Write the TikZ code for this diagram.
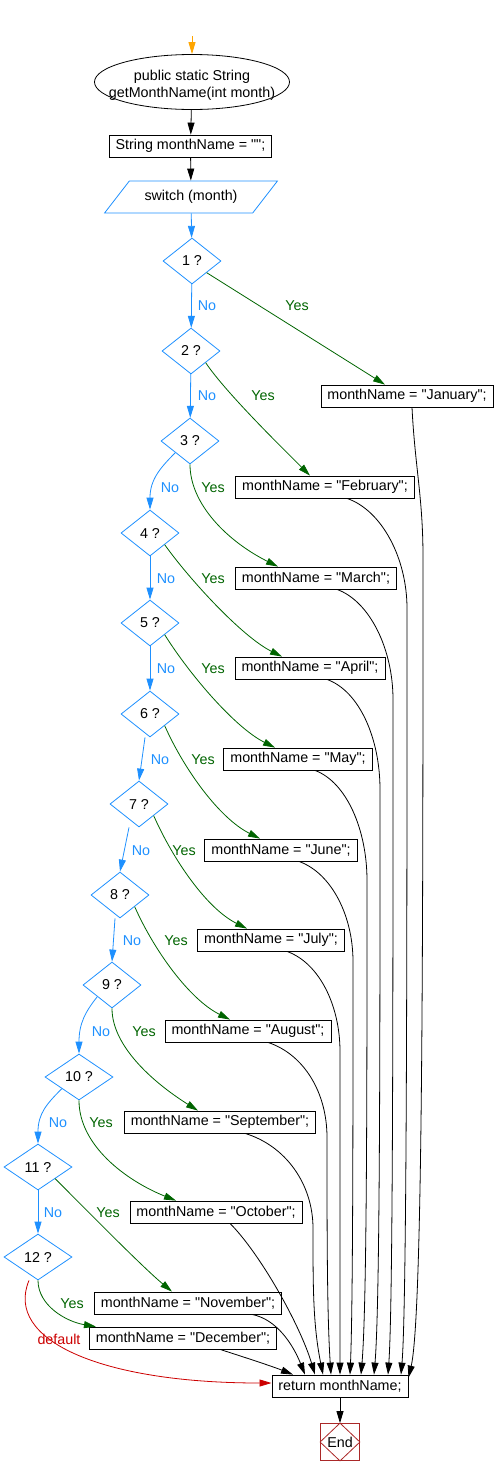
\documentclass[tikz,border=0pt]{standalone}
\usepackage{fontspec}
\setmainfont{Liberation Sans}[Ligatures=TeXOff]
\usetikzlibrary{positioning,shapes.geometric,arrows.meta}

\definecolor{noblue}{RGB}{30,144,255}
\definecolor{yesgreen}{RGB}{0,100,0}
\definecolor{defred}{RGB}{204,0,0}
\definecolor{startorange}{RGB}{255,165,0}
\definecolor{endred}{RGB}{170,40,40}

\begin{document}
\begin{tikzpicture}[x=1pt, y=-1pt,
  font=\fontsize{14.3}{17}\selectfont,
  box/.style = {draw, line width=0.8pt, inner xsep=6.5pt, inner ysep=0pt,
    minimum height=22pt},
  cond/.style = {draw=noblue, diamond, aspect=1.3, inner sep=0pt,
    minimum width=58pt, minimum height=46pt, line width=0.8pt},
  wide/.style = {minimum width=68pt},
  arr/.style = {line width=0.8pt, -{Triangle[length=12pt,width=7pt]}},
  no/.style = {arr, noblue},
  yes/.style = {arr, yesgreen},
  nolbl/.style = {text=noblue},
  yeslbl/.style = {text=yesgreen}
  ]
  \useasboundingbox (0,0) rectangle (496,1476);

  \coordinate (start) at (192,36);
  \node (fn) [draw, ellipse, line width=0.8pt, minimum width=195pt,
    minimum height=55pt,
    label={[align=center, yshift=-3pt]center:public static String\\getMonthName(int month)}]
    at (192,82) {};
  \node (init) [box] at (190.5,146) {String monthName = "";};
  \node (sw) [draw=noblue, line width=0.8pt, trapezium,
    trapezium left angle=45, trapezium right angle=135,
    trapezium stretches=true, minimum width=173pt, minimum height=32pt]
    at (191,197) {switch (month)};

  % the cases
  \node (d1) [cond] at (192,261) {1 ?};
  \node (d2) [cond] at (191,351) {2 ?};
  \node (d3) [cond] at (190,441) {3 ?};
  \node (d4) [cond] at (150,533) {4 ?};
  \node (d5) [cond] at (150,623) {5 ?};
  \node (d6) [cond] at (150,714) {6 ?};
  \node (d7) [cond] at (139,804) {7 ?};
  \node (d8) [cond] at (120,895) {8 ?};
  \node (d9) [cond] at (112,985) {9 ?};
  \node (d10) [cond, wide] at (79,1077) {10 ?};
  \node (d11) [cond, wide] at (38,1167) {11 ?};
  \node (d12) [cond, wide] at (38,1257) {12 ?};

  \node (jan) [box] at (407,396) {monthName = "January";};
  \node (feb) [box] at (325,487) {monthName = "February";};
  \node (mar) [box] at (316,578) {monthName = "March";};
  \node (apr) [box] at (310,668) {monthName = "April";};
  \node (may) [box] at (298,759) {monthName = "May";};
  \node (jun) [box] at (281,850) {monthName = "June";};
  \node (jul) [box] at (271,940) {monthName = "July";};
  \node (aug) [box] at (248,1031) {monthName = "August";};
  \node (sep) [box] at (220,1122) {monthName = "September";};
  \node (oct) [box] at (216,1212) {monthName = "October";};
  \node (nov) [box] at (188,1303) {monthName = "November";};
  \node (dec) [box] at (183,1338) {monthName = "December";};

  \node (ret) [box] at (340,1386) {return monthName;};
  \node (end) [draw=endred, line width=0.8pt, minimum width=39pt,
    minimum height=37pt, inner sep=0pt] at (340,1442) {End};
  \draw[endred, line width=0.8pt] (end.north) -- (end.east) -- (end.south)
    -- (end.west) -- cycle;

  % labels
  \node (n1) [nolbl] at (207,306) {No};
  \node (n2) [nolbl] at (207,396) {No};
  \node (n3) [nolbl] at (170,488) {No};
  \node (n4) [nolbl] at (166,579) {No};
  \node (n5) [nolbl] at (166,669) {No};
  \node (n6) [nolbl] at (160,760) {No};
  \node (n7) [nolbl] at (141,851) {No};
  \node (n8) [nolbl] at (132,941) {No};
  \node (n9) [nolbl] at (101,1032) {No};
  \node (n10) [nolbl] at (58,1123) {No};
  \node (n11) [nolbl] at (53,1213) {No};
  \node (y1) [yeslbl] at (297,306) {Yes};
  \node (y2) [yeslbl] at (263,396) {Yes};
  \node (y3) [yeslbl] at (213,488) {Yes};
  \node (y4) [yeslbl] at (213,579) {Yes};
  \node (y5) [yeslbl] at (213,669) {Yes};
  \node (y6) [yeslbl] at (203,760) {Yes};
  \node (y7) [yeslbl] at (184,851) {Yes};
  \node (y8) [yeslbl] at (176,941) {Yes};
  \node (y9) [yeslbl] at (144,1032) {Yes};
  \node (y10) [yeslbl] at (101,1123) {Yes};
  \node (y11) [yeslbl] at (108,1213) {Yes};
  \node (y12) [yeslbl] at (72,1304) {Yes};
  \node (dflt) [text=defred] at (59,1339) {default};

  % main flow
  \draw[arr, startorange] (start) -- (fn);
  \draw[arr] (fn) -- (init);
  \draw[arr] (init) -- (sw);
  \draw[no] (sw) -- (d1);

  % no branches
  \draw[no] (d1) -- (d2);
  \draw[no] (d2) -- (d3);
  \draw[no] (d3.south west) .. controls +(-15,15) and +(0,-30) .. (d4.north);
  \draw[no] (d4) -- (d5);
  \draw[no] (d5) -- (d6);
  \draw[no] ([xshift=-5pt]d6.south) -- (d7.north);
  \draw[no] ([xshift=-10pt]d7.south) -- (d8.north);
  \draw[no] ([xshift=-5pt]d8.south) -- (d9.north);
  \draw[no] (d9.south west) .. controls +(-12,15) and +(0,-30) .. (d10.north);
  \draw[no] (d10.south west) .. controls +(-15,15) and +(0,-30) .. (d11.north);
  \draw[no] (d11) -- (d12);

  % yes branches
  \draw[yes] (d1.south east) -- ([xshift=-22pt]jan.north);
  \draw[yes] (d2.south east) .. controls +(20,30) and +(-25,-25) .. ([xshift=-15pt]feb.north);
  \draw[yes] (d3.south) .. controls +(0,40) and +(-50,-25) .. ([xshift=-38pt]mar.north);
  \draw[yes] (d4.south east) .. controls +(25,35) and +(-40,-20) .. ([xshift=-28pt]apr.north);
  \draw[yes] (d5.south east) .. controls +(25,40) and +(-40,-20) .. ([xshift=-23pt]may.north);
  \draw[yes] (d6.south east) .. controls +(20,45) and +(-40,-20) .. ([xshift=-21pt]jun.north);
  \draw[yes] (d7.south east) .. controls +(20,45) and +(-40,-20) .. ([xshift=-24pt]jul.north);
  \draw[yes] (d8.south east) .. controls +(20,45) and +(-40,-20) .. ([xshift=-18pt]aug.north);
  \draw[yes] (d9.south) .. controls +(0,40) and +(-40,-25) .. ([xshift=-22pt]sep.north);
  \draw[yes] (d10.south) .. controls +(0,45) and +(-50,-20) .. ([xshift=-40pt]oct.north);
  \draw[yes] (d11.south east) .. controls +(30,30) and +(-30,-25) .. ([xshift=-16pt]nov.north);
  \draw[yes] (d12.south) .. controls +(0,25) and +(-30,-5) .. ([xshift=7pt]dec.north west);
  \draw[arr, defred] ([xshift=-9pt]d12.south) .. controls +(-25,60) and +(-170,0) .. ([yshift=3pt]ret.west);

  % into the return
  \draw[arr] ([xshift=5pt]jan.south) .. controls +(3,60) and +(0,-60) .. ++(11,150)
    .. controls +(0,400) and +(14,-60) .. ([yshift=-3pt]ret.north east);
  \draw[arr] ([xshift=22pt]feb.south) .. controls +(35,12) and +(0,-50) .. ++(60,110)
    .. controls +(0,300) and +(6,-70) .. ([xshift=61pt]ret.north);
  \draw[arr] ([xshift=21pt]mar.south) .. controls +(33,12) and +(0,-50) .. ++(56,110)
    .. controls +(0,300) and +(5,-70) .. ([xshift=48pt]ret.north);
  \draw[arr] ([xshift=17pt]apr.south) .. controls +(33,12) and +(0,-50) .. ++(53,110)
    .. controls +(0,250) and +(6,-70) .. ([xshift=34pt]ret.north);
  \draw[arr] ([xshift=17pt]may.south) .. controls +(32,12) and +(0,-50) .. ++(52,110)
    .. controls +(0,200) and +(6,-70) .. ([xshift=21pt]ret.north);
  \draw[arr] ([xshift=18pt]jun.south) .. controls +(33,12) and +(0,-45) .. ++(54,100)
    .. controls +(0,150) and +(3,-70) .. ([xshift=10pt]ret.north);
  \draw[arr] ([xshift=16pt]jul.south) .. controls +(33,12) and +(0,-45) .. ++(53,100)
    .. controls +(0,120) and +(0,-70) .. (ret.north);
  \draw[arr] ([xshift=20pt]aug.south) .. controls +(36,12) and +(0,-45) .. ++(59,95)
    .. controls +(0,90) and +(-4,-60) .. ([xshift=-9pt]ret.north);
  \draw[arr] ([xshift=25pt]sep.south) .. controls +(40,12) and +(0,-45) .. ++(68,95)
    .. controls +(0,60) and +(-10,-50) .. ([xshift=-17pt]ret.north);
  \draw[arr] ([xshift=14pt]oct.south) .. controls +(30,30) and +(-15,-50) .. ([xshift=-25pt]ret.north);
  \draw[arr] ([xshift=64pt]nov.south) .. controls +(25,5) and +(-12,-30) .. ([xshift=-35pt]ret.north);
  \draw[arr] ([xshift=37pt]dec.south) .. controls +(25,8) and +(-20,-8) .. ([xshift=-47pt]ret.north);
  \draw[arr] (ret) -- (end);
\end{tikzpicture}
\end{document}
